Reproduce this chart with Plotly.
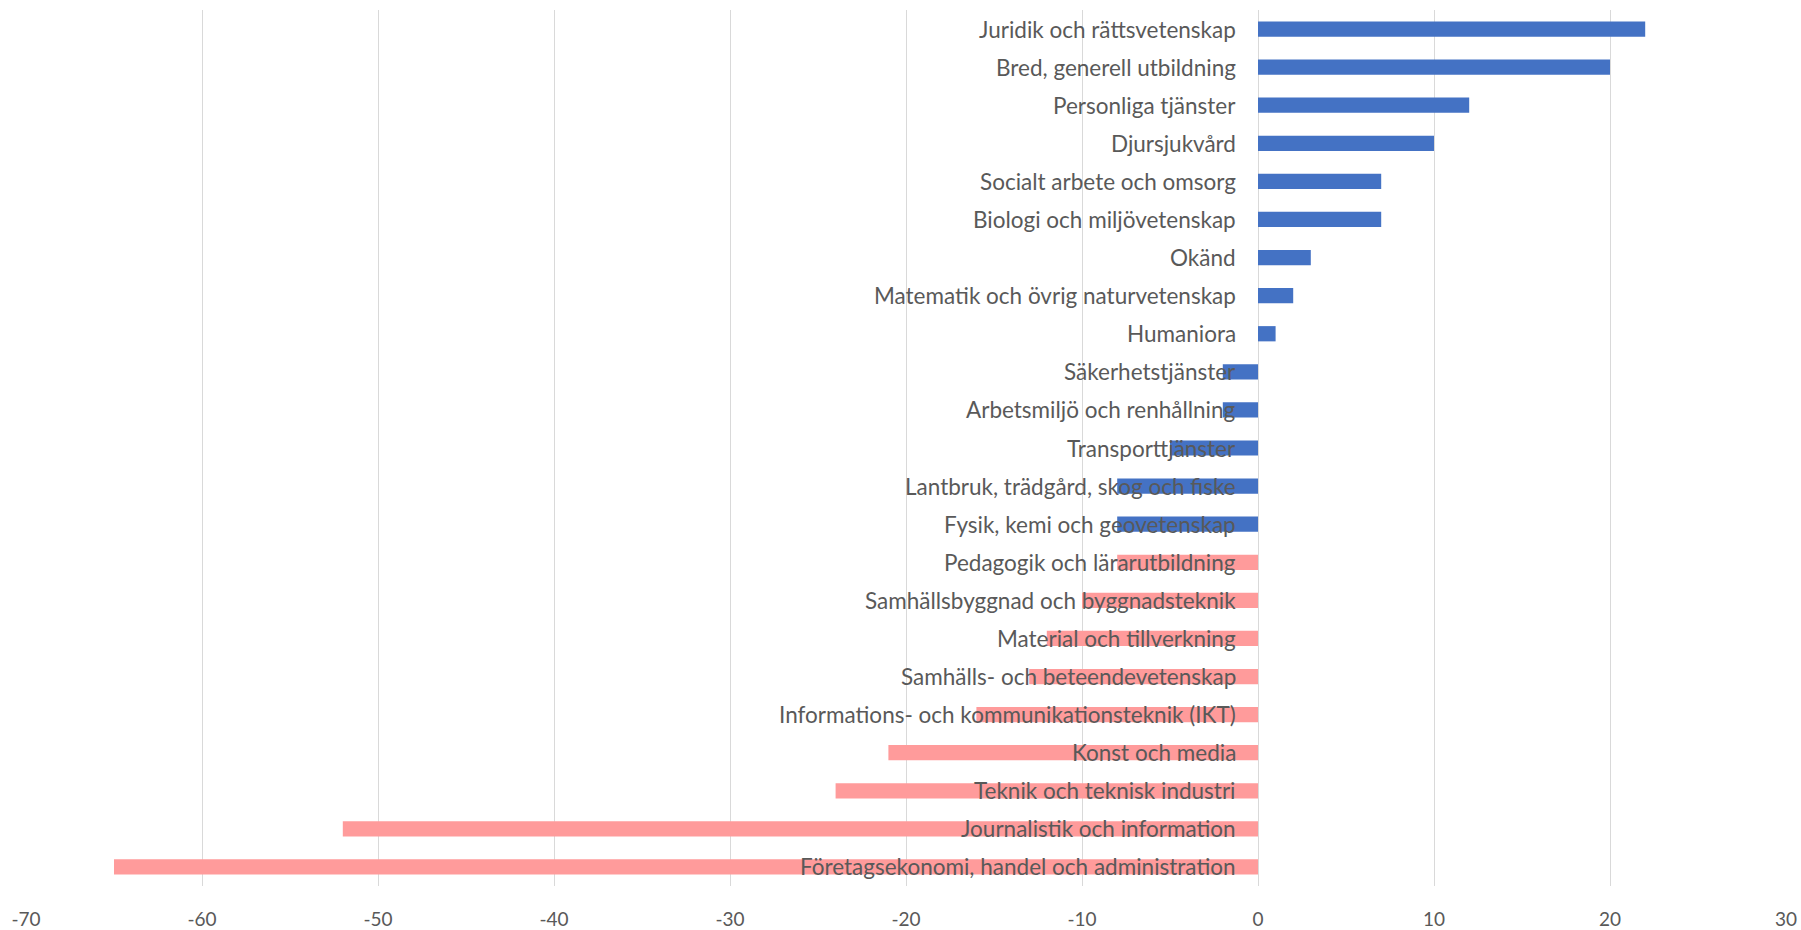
import plotly.graph_objects as go

categories = [
    'Juridik och rättsvetenskap',
    'Bred, generell utbildning',
    'Personliga tjänster',
    'Djursjukvård',
    'Socialt arbete och omsorg',
    'Biologi och miljövetenskap',
    'Okänd',
    'Matematik och övrig naturvetenskap',
    'Humaniora',
    'Säkerhetstjänster',
    'Arbetsmiljö och renhållning',
    'Transporttjänster',
    'Lantbruk, trädgård, skog och fiske',
    'Fysik, kemi och geovetenskap',
    'Pedagogik och lärarutbildning',
    'Samhällsbyggnad och byggnadsteknik',
    'Material och tillverkning',
    'Samhälls- och beteendevetenskap',
    'Informations- och kommunikationsteknik (IKT)',
    'Konst och media',
    'Teknik och teknisk industri',
    'Journalistik och information',
    'Företagsekonomi, handel och administration',
]
values = [22, 20, 12, 10, 7, 7, 3, 2, 1, -2, -2, -5, -8, -8, -8, -10, -12, -13, -16, -21, -24, -52, -65]
x_ticks = [-70, -60, -50, -40, -30, -20, -10, 0, 10, 20, 30]

BLUE = '#4472C4'
PINK = '#FF9B9B'
colors = [BLUE if i < 14 else PINK for i in range(len(categories))]

FONT = 'Lato, Carlito, Calibri, sans-serif'
GREY = '#595959'

fig = go.Figure(
    go.Bar(
        x=values,
        y=categories,
        orientation='h',
        width=0.4,
        marker={'color': colors, 'line': {'width': 0}},
        showlegend=False,
    )
)

# category labels sit just left of the zero line, like the original
for cat in categories:
    fig.add_annotation(
        x=0,
        y=cat,
        text=cat,
        showarrow=False,
        xanchor='right',
        xshift=-20,
        font={'family': FONT, 'size': 22.5, 'color': GREY},
    )

fig.update_layout(
    width=1801,
    height=930,
    plot_bgcolor='white',
    paper_bgcolor='white',
    margin={'l': 26, 'r': 15, 't': 10, 'b': 44},
    font={'family': FONT, 'size': 19, 'color': GREY},
    xaxis={
        'range': [-70, 30],
        'tickvals': x_ticks,
        'ticktext': [str(t) for t in x_ticks],
        'showgrid': True,
        'gridcolor': '#D9D9D9',
        'gridwidth': 1,
        'zeroline': True,
        'zerolinecolor': '#D9D9D9',
        'zerolinewidth': 1,
        'ticks': 'outside',
        'ticklen': 16,
        'tickcolor': 'rgba(0,0,0,0)',
        'showline': False,
        'automargin': False,
    },
    yaxis={
        'categoryorder': 'array',
        'categoryarray': categories,
        'autorange': 'reversed',
        'showticklabels': False,
        'showgrid': False,
        'zeroline': False,
        'automargin': False,
    },
)

# drop the page's default body margin so the figure fills the window exactly
fig.write_html(
    'out.html',
    config={'displayModeBar': False},
    post_script="document.body.style.margin = '0';",
)
